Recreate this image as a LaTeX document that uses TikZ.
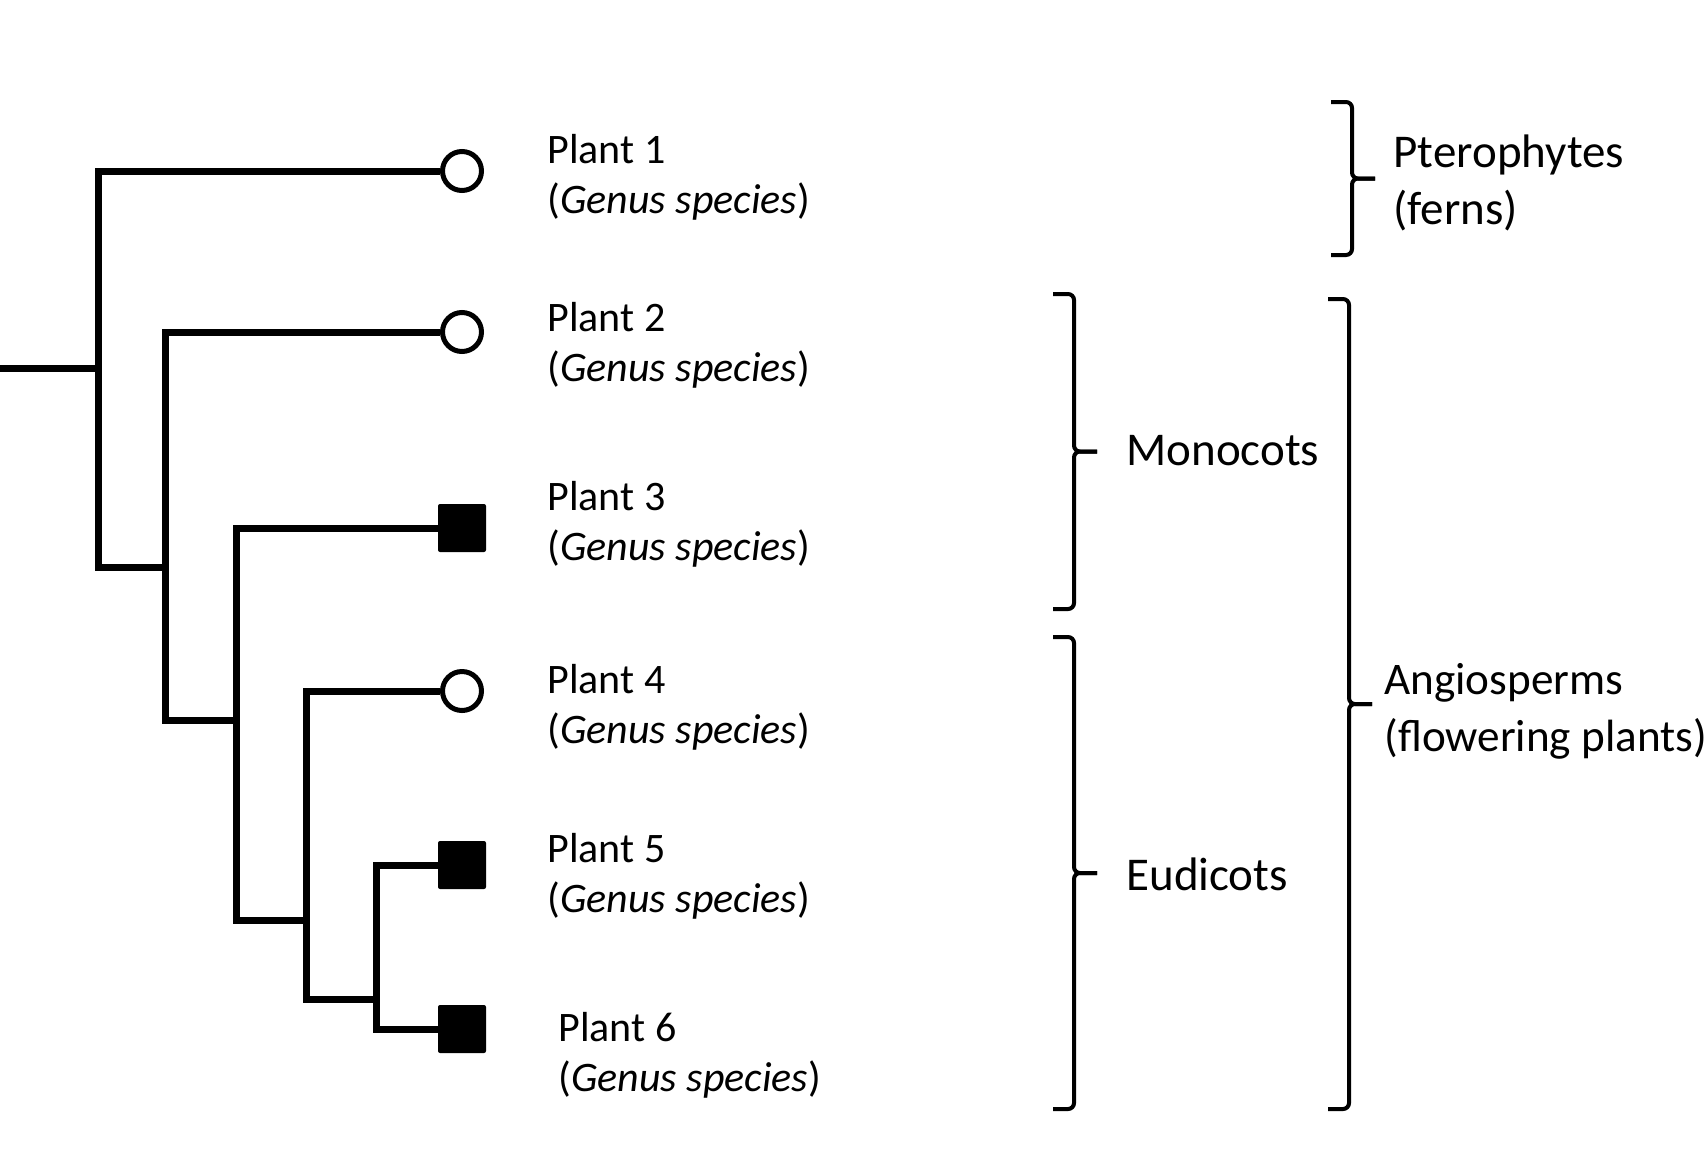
\documentclass[tikz,border=0pt]{standalone}
\usepackage{fontspec}
\setmainfont{Carlito}
\tikzset{
  branch/.style={line width=3.5pt},
  leafopen/.style={circle, draw, line width=2.5pt, fill=white, minimum size=19.5pt, inner sep=0pt},
  leafshut/.style={rectangle, fill=black, rounded corners=1pt, minimum size=24pt, inner sep=0pt},
  taxon/.style={anchor=west, inner sep=0pt, align=left, font=\fontsize{21pt}{25pt}\selectfont},
  group/.style={anchor=west, inner sep=0pt, align=left, font=\fontsize{23.5pt}{28.5pt}\selectfont},
  brace/.style={line width=2pt, rounded corners=3pt},
}
\begin{document}
\begin{tikzpicture}[x=0.5pt,y=-0.5pt]
\useasboundingbox (0,0) rectangle (1706,1157);
% tips of the tree
\node[leafopen] (p1) at (462,171) {};
\node[leafopen] (p2) at (462,332) {};
\node[leafshut] (p3) at (462,528) {};
\node[leafopen] (p4) at (462,691) {};
\node[leafshut] (p5) at (462,865) {};
\node[leafshut] (p6) at (462,1029) {};
% branching points
\coordinate (root) at (0,368);
\coordinate (j1) at (98,567);
\coordinate (j2) at (165,720);
\coordinate (j3) at (236,920);
\coordinate (j4) at (306,999);
\coordinate (j5) at (376,999);
\draw[branch] (root) -- (root -| j1);
\draw[branch] (p1) -| (j1) -- (j1 -| j2);
\draw[branch] (p2) -| (j2) -- (j2 -| j3);
\draw[branch] (p3) -| (j3) -- (j3 -| j4);
\draw[branch] (p4) -| (j4) -- (j5);
\draw[branch] (p5) -| (j5) |- (p6);
% names
\node[taxon] (l1) at (547,177) {Plant 1\\(\textit{Genus species})};
\node[taxon] (l2) at (547,345) {Plant 2\\(\textit{Genus species})};
\node[taxon] (l3) at (547,524) {Plant 3\\(\textit{Genus species})};
\node[taxon] (l4) at (547,707) {Plant 4\\(\textit{Genus species})};
\node[taxon] (l5) at (547,876) {Plant 5\\(\textit{Genus species})};
\node[taxon] (l6) at (558,1055) {Plant 6\\(\textit{Genus species})};
% braces
\foreach \x/\t/\b in {1074/294/609, 1074/637/1109, 1352/102/255, 1349/299/1109} {
  \draw[brace] ({\x-21},\t) -- (\x,\t) -- (\x,{(\t+\b)/2}) -- ({\x+23},{(\t+\b)/2});
  \draw[brace] ({\x+23},{(\t+\b)/2}) -- (\x,{(\t+\b)/2}) -- (\x,\b) -- ({\x-21},\b);
}
\node[group] (ptero) at (1393,183) {Pterophytes\\(ferns)};
\node[group] (mono) at (1126,451) {Monocots};
\node[group] (eudi) at (1126,874) {Eudicots};
\node[group, font=\fontsize{22.6pt}{28.5pt}\selectfont] (angio) at (1384,711) {Angiosperms\\(flowering plants)};
\end{tikzpicture}
\end{document}
